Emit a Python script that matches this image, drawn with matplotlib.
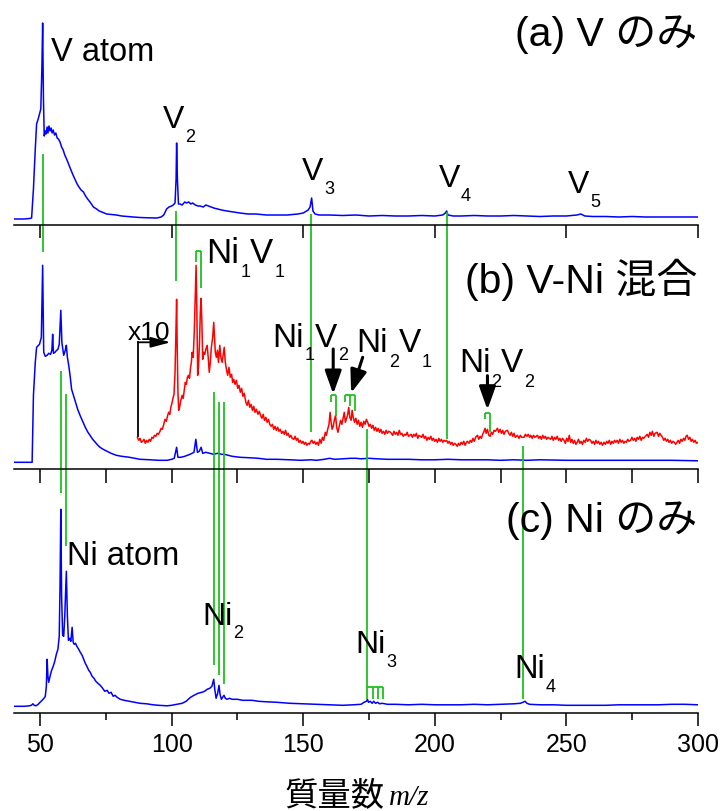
import numpy as np
import matplotlib
matplotlib.use('Agg')
import matplotlib.pyplot as plt

plt.rcParams['font.family'] = ['Liberation Sans', 'Noto Sans CJK JP', 'DejaVu Sans']

BLUE = '#0000ff'
RED = '#ff0000'
GREEN = '#1ec31e'

# ---- (a) V only : mass, intensity ----
va_mass = [39.7, 42, 44, 46, 46.8, 47.5, 48.2, 48.7, 49.3, 49.8, 50.3, 50.7, 51.0, 51.3, 51.6,
           52.0, 52.3, 52.7, 53.0, 53.4, 53.8, 54.2, 54.6, 55.0, 55.5, 56.0, 56.5, 57.0, 57.6,
           58.2, 58.8, 59.4, 60.1, 60.7, 61.3, 61.9, 62.7, 63.4, 64.1, 64.8, 65.6, 66.5, 67.3,
           68.1, 69.0, 70.3, 71.5, 72.5, 73.5, 75.3, 77, 79, 81, 83, 85.4, 88, 91, 94.4, 96, 97,
           98.1, 99, 100, 100.6, 101.3, 101.7, 101.9, 102.2, 102.6, 103.2, 104, 105, 105.7, 106.5,
           107.3, 108, 109, 110, 110.8, 112, 113, 114, 115, 116, 117.5, 119, 121, 123.4, 126, 129,
           132, 136, 140, 144, 148, 150, 151.9, 152.6, 153.2, 153.7, 154.5, 156, 160, 165, 170,
           175, 180, 185, 190, 195, 200, 203, 204, 204.5, 205, 207, 210, 215, 220, 225, 230, 235,
           240, 245, 250, 254, 255.5, 257, 260, 265, 270, 275, 280, 285, 290, 295, 300]
va_int = [0, 0, 0, 0.5, 1, 30, 70, 95, 100, 105, 110, 150, 196, 120, 83,
          88, 85, 92, 86, 93, 88, 91, 86, 89, 84, 86, 81, 80, 77,
          72, 69, 64, 60, 56, 52, 48, 43, 39, 35, 32, 29, 27, 23,
          20, 17, 12, 10, 8, 7, 5, 4.5, 4, 3, 2.5, 2, 1.5, 1.2, 1, 2, 4,
          10, 12, 13, 14, 16, 40, 76, 40, 15, 15, 14, 17, 16, 17,
          15, 16, 14, 13, 13, 12, 14, 13, 12, 11, 10, 9, 8, 7, 6, 5,
          5, 4, 4, 4, 5, 6, 9, 12, 21, 8, 5, 4, 4, 3.5, 4,
          3, 3.5, 3, 3, 3.5, 3, 4, 6, 8, 4, 3, 3, 3.5, 3, 3, 3.5, 3,
          2.5, 3, 3, 4, 5, 3, 2.5, 2.5, 2, 2.5, 2, 2, 2, 2, 2]

# ---- (b) V-Ni mixed, blue trace ----
vb_mass = [39.7, 44, 47, 47.5, 48.2, 48.7, 49.8, 50.5, 51.0, 51.4, 52, 52.7, 53.3, 54, 54.5,
           54.8, 55.1, 55.7, 56.3, 56.8, 57.3, 57.9, 58.3, 59, 59.6, 60.0, 60.4, 60.9, 61.5, 62,
           62.7, 63.5, 64.3, 65.2, 66.2, 67.2, 68.2, 69, 70, 71, 72, 72.8, 74, 75.5, 77, 79, 81,
           84, 88, 92, 95, 98.3, 100, 101, 101.9, 102.4, 103.5, 105, 107, 108.5, 109.2, 109.8,
           110.5, 111.2, 111.8, 113, 114.5, 116, 117.5, 119, 120, 121.5, 123, 126, 130, 133, 136,
           140, 145, 149, 153, 155, 158, 160, 162, 165, 168, 170, 172, 175, 178, 182, 186, 190,
           195, 200, 205, 210, 215, 220, 225, 230, 235, 240, 250, 260, 270, 280, 290, 300]
vb_int = [0, 0, 0, 67, 100, 115, 118, 125, 197, 110, 106, 107, 109, 108, 112,
          128, 109, 110, 112, 113, 118, 152, 120, 107, 112, 117, 105, 97, 85, 73,
          67, 60, 53, 47, 41, 35, 30, 27, 23, 20, 17, 15, 13, 11, 9, 7, 6,
          5, 3, 2.5, 2, 2, 3, 4, 15, 5, 5, 6, 8, 10, 23, 10,
          11, 15, 9, 10, 9, 8, 9, 8, 8, 7, 6, 5, 4.5, 4, 3,
          3, 2.5, 2, 2.5, 2, 3, 4, 3, 3.5, 4, 4, 3.5, 4, 3.5, 3, 3, 3,
          2.5, 2.5, 3, 2.5, 2.5, 2.5, 2, 2.5, 2, 2.5, 2, 2, 2, 2, 2, 1.5]

# ---- (b) V-Ni mixed, x10 trace ----
rb_mass = [87.0, 87.5, 88, 88.5, 89, 89.5, 90, 90.5, 91, 91.5, 92, 92.5, 93, 93.5, 94, 94.5, 95,
           95.6, 96, 96.5, 97, 97.5, 98, 98.5, 98.9, 99.3, 99.7, 100.2, 100.6, 100.9, 101.3,
           101.7, 101.9, 102.1, 102.4, 102.7, 103.1, 103.5, 104, 104.4, 104.8, 105.2, 105.6, 106,
           106.4, 106.8, 107.2, 107.5, 107.8, 108.2, 108.6, 109.0, 109.3, 109.6, 109.9, 110.2,
           110.6, 110.9, 111.2, 111.5, 111.8, 112.2, 112.6, 113, 113.5, 113.9, 114.3, 114.7,
           115.1, 115.6, 116.0, 116.3, 116.6, 117, 117.4, 117.8, 118.3, 118.7, 119.2, 119.6,
           120.0, 120.4, 120.9, 121.3, 121.8, 122.3, 122.8, 123.2, 123.6, 124.1, 124.6, 125.1,
           125.6, 126.1, 126.6, 127.1, 127.6, 128.2, 128.7, 129.2, 129.7, 130.2, 130.7, 131.2,
           131.7, 132.2, 132.8, 133.3, 133.8, 134.3, 134.8, 135.3, 135.8, 136.3, 136.8, 137.3,
           137.8, 138.3, 138.8, 139.3, 139.8, 140.3, 140.8, 141.3, 141.8, 142.3, 142.8, 143.3,
           143.8, 144.3, 144.8, 145.3, 145.8, 146.4, 146.9, 147.4, 147.9, 148.4, 148.9, 149.4,
           149.9, 150.4, 150.9, 151.4, 151.9, 152.4, 152.9, 153.3, 153.8, 154.3, 154.8, 155.3,
           155.8, 156.3, 156.8, 157.3, 157.8, 158.4, 158.8, 159.3, 159.8, 160.2, 160.6, 161.0,
           161.4, 161.8, 162.3, 162.7, 163.2, 163.7, 164.2, 164.7, 165.2, 165.6, 166.0, 166.5,
           166.9, 167.3, 167.7, 168.2, 168.6, 169.0, 169.5, 170, 170.5, 171, 171.5, 172, 172.5,
           173, 173.5, 174, 174.5, 175, 175.5, 176, 176.5, 177, 177.5, 178, 178.5, 179, 179.5,
           180, 180.5, 181, 181.5, 182, 182.5, 183.2, 184, 184.5, 185, 185.5, 186, 186.5, 187,
           187.5, 188, 188.5, 189, 189.5, 190, 191, 191.5, 192, 192.5, 193, 193.5, 194, 195,
           195.5, 196, 196.5, 197, 197.5, 198, 198.5, 199, 199.5, 200, 200.5, 201, 201.5, 202,
           202.5, 203, 203.5, 204, 204.5, 205, 205.5, 206, 206.5, 207, 207.5, 208, 208.5, 209,
           209.5, 210, 210.5, 211, 211.5, 212, 212.4, 213, 213.5, 214, 214.5, 215, 215.5, 216.2,
           216.7, 217.2, 217.7, 218.2, 218.7, 219.1, 219.5, 220, 220.5, 221, 221.5, 222, 222.5,
           223, 223.8, 224.3, 224.8, 225.3, 225.8, 226.3, 226.8, 227.6, 228.1, 228.6, 229.1,
           229.6, 230.1, 230.6, 231.4, 232, 232.5, 233, 233.9, 234.4, 235, 235.5, 236, 236.5,
           237, 237.5, 238, 239, 239.5, 240, 240.5, 241, 241.5, 242, 242.5, 243, 244, 244.5, 245,
           245.5, 246, 246.5, 247, 247.5, 248, 248.5, 249.1, 249.6, 250.1, 250.6, 251.1, 251.6,
           252.1, 252.6, 253.1, 253.6, 254.1, 254.6, 255.1, 255.6, 256.1, 256.6, 257.1, 257.6,
           258.1, 258.6, 259.2, 259.7, 260.2, 260.7, 261.2, 261.7, 262.2, 262.7, 263.2, 263.7,
           264.3, 264.8, 265.3, 265.8, 266.3, 266.8, 267.3, 267.8, 268.3, 268.8, 269.3, 269.8,
           270.3, 270.8, 271.3, 271.8, 272.3, 272.8, 273.3, 273.8, 274.4, 274.9, 275.4, 275.9,
           276.4, 276.9, 277.4, 277.9, 278.4, 278.9, 279.4, 280, 280.7, 281.2, 281.7, 282.2,
           282.7, 283.2, 283.7, 284.5, 285, 285.5, 286, 286.5, 287, 287.5, 288, 288.5, 289,
           289.5, 290, 290.5, 291, 291.5, 292, 292.5, 293, 293.5, 294, 294.5, 295, 295.4, 295.9,
           296.4, 296.9, 297.4, 297.9, 298.4, 298.9, 299.4, 300]
rb_int = [25, 22, 24, 20, 21, 23, 19, 22, 20, 23, 21, 25, 24, 27, 26, 29, 28,
          31, 34, 33, 38, 43, 41, 47, 50, 48, 55, 60, 65, 68, 90,
          140, 163, 120, 70, 52, 56, 62, 67, 64, 72, 80, 78, 85,
          87, 84, 95, 100, 110, 105, 130, 170, 197, 150, 87, 95,
          120, 150, 164, 140, 103, 110, 108, 113, 117, 105, 90, 100,
          115, 125, 140, 125, 110, 105, 112, 100, 117, 105, 100, 108,
          115, 100, 92, 87, 95, 85, 88, 80, 83, 78, 82, 74,
          77, 70, 74, 66, 69, 60, 57, 62, 55, 58, 52, 56,
          50, 53, 48, 51, 47, 44, 48, 42, 45, 40, 43, 38,
          36, 38, 33, 36, 32, 35, 31, 33, 29, 31, 28, 32,
          27, 29, 25, 27, 24, 23, 26, 22, 24, 20, 22, 19,
          21, 18, 20, 17, 19, 18, 21, 22, 19, 21, 18, 20,
          17, 23, 19, 25, 22, 30, 27, 33, 38, 50, 40, 33,
          36, 42, 47, 35, 30, 36, 42, 38, 45, 50, 40, 44,
          48, 55, 45, 42, 52, 45, 40, 44, 38, 42, 36, 40, 35,
          41, 38, 43, 40, 36, 38, 34, 37, 32, 35, 31, 34, 30, 33,
          29, 31, 28, 32, 29, 31, 30, 27, 31, 28, 30, 27, 32, 28,
          29, 26, 28, 27, 30, 26, 28, 25, 28, 26, 29, 24, 27, 25,
          28, 24, 26, 22, 25, 23, 26, 22, 24, 21, 23, 20, 24, 21,
          23, 20, 22, 21, 22, 19, 21, 18, 20, 17, 19, 18, 16, 19,
          17, 20, 18, 21, 17, 20, 21, 19, 22, 20, 24, 21, 25, 27,
          23, 26, 24, 28, 31, 34, 29, 33, 27, 26, 30, 28, 32,
          31, 34, 30, 33, 29, 32, 28, 31, 32, 29, 27, 30,
          26, 29, 25, 27, 24, 27, 25, 25, 28, 26, 28, 25, 27,
          24, 27, 25, 27, 24, 26, 23, 27, 24, 26, 23, 25, 23, 26, 22,
          25, 23, 26, 22, 24, 21, 24, 22, 19, 24, 21, 27, 20,
          23, 19, 22, 18, 20, 23, 19, 21, 18, 22, 20, 24,
          21, 23, 22, 19, 21, 18, 22, 19, 21, 18, 20, 17,
          20, 18, 21, 19, 22, 18, 21, 19, 22, 20, 22, 19,
          23, 20, 22, 19, 21, 20, 23, 21, 22, 25, 22, 24,
          21, 25, 23, 26, 22, 25, 24, 26, 28, 25, 30, 27,
          31, 26, 29, 30, 26, 29, 27, 25, 22, 24, 21, 23, 20,
          22, 19, 21, 20, 18, 20, 22, 19, 23, 21, 24, 22, 26, 27,
          23, 25, 21, 23, 20, 22, 19, 20]

# ---- (c) Ni only ----
nc_mass = [39.7, 44, 46, 46.7, 47.3, 47.8, 48.5, 49.3, 50, 50.8, 51.5, 52, 52.4, 52.7, 53, 53.3,
           53.8, 54.4, 55, 55.6, 56.2, 56.8, 57.3, 57.6, 57.9, 58.2, 58.6, 59.0, 59.4, 60.0, 60.4,
           60.8, 61.3, 61.7, 62.2, 62.6, 63.0, 63.5, 64, 64.7, 65.3, 66, 66.6, 67.2, 67.8, 68.5,
           69.1, 69.8, 70.5, 71.2, 72, 72.9, 73.8, 74.6, 75.5, 76.2, 77, 77.8, 78.5, 79.3, 80.5,
           82, 84, 86, 88, 90.5, 93, 95, 98.3, 100, 102, 104, 105.5, 107.2, 108.5, 110, 111.5,
           112.5, 113.5, 114.5, 115.3, 115.7, 116.0, 116.4, 116.9, 117.5, 118.0, 118.4, 118.9,
           119.4, 119.9, 120.4, 121, 122, 123, 125, 127, 130.6, 133, 136, 140, 145, 150, 155, 160,
           165, 169, 172, 173.1, 174.0, 174.4, 174.8, 175.5, 176.2, 176.8, 177.5, 178.3, 179,
           180, 182, 185, 190, 195, 200, 205, 210, 215, 220, 225, 230, 232.5, 233.5, 234.3, 235,
           236, 240, 245, 250, 255, 260, 265, 270, 275, 280, 285, 290, 295, 300]
nc_int = [0, 0, 0.5, 1, 2.5, 1, 0.5, 2, 4, 6, 8, 10, 20, 47, 30, 24,
          30, 36, 40, 45, 52, 57, 70, 120, 197, 110, 71, 70, 90, 135, 90,
          66, 68, 65, 79, 64, 62, 63, 60, 57, 54, 51, 47, 43, 40, 36,
          34, 30, 28, 25, 23, 21, 18, 15, 16, 13, 14, 10, 11, 9, 7,
          6, 5, 4, 3, 2.5, 1.5, 1, 0.5, 1, 2, 3, 5, 9, 11, 13, 14,
          15, 17, 18, 20, 24, 27, 17, 8, 13, 21, 12, 7,
          9, 11, 8, 7, 8, 7, 7, 6, 6, 5, 4.5, 4, 3, 2.5, 2, 1.5,
          1, 1.5, 2, 4, 5, 7, 4, 5, 3, 5, 3, 4, 2.5,
          3, 2, 2, 1.5, 2, 1.5, 1.5, 1.5, 2, 1.5, 2, 2.5, 3, 4, 5, 3,
          2, 1.5, 1.5, 1, 1, 1, 1, 1.5, 1.5, 1.5, 1.5, 2, 2, 1.5]

# isotope marker lines: mass, top, bottom (own panel units, may reach into next panel)
v_lines = [(51.0, 65, -33), (101.7, 8, -61.7), (152.8, 5, -213), (204.5, 7, -220)]
ni_lines = [(57.9, 91.3, -30.7), (60.0, 68.3, -83.7), (116.0, 70, -202.7),
            (118.0, 60.6, -212.7), (120.0, 60, -221.7), (174.4, 33.3, -224.7),
            (233.6, 16.3, -236.7)]

# brackets: top, [(mass, leg bottom), ...]
b_brackets = [(211.3, [(109.3, 200), (111.2, 174)]),
              (67.3, [(160.4, 60), (162.5, 46.6)]),
              (67.3, [(165.9, 60), (167.8, 56.6), (169.7, 51.6)]),
              (49, [(219.0, 43.3), (221.0, 30)])]
c_brackets = [(19, [(174.4, 7), (176.4, 7), (178.4, 7), (180.4, 7)])]


def chem(ax, x, y, parts, size, drop, subsize=13):
    # parts alternate: main, subscript, main, subscript ...
    prev = ax.text(x, y, parts[0], fontsize=size, ha='left', va='baseline')
    for i, s in enumerate(parts[1:], 1):
        sub = (i % 2 == 1)
        prev = ax.annotate(s, xy=(1, y), xycoords=(prev, 'data'),
                           xytext=(0.5 if sub else 0, -drop * 0.72 if sub else 0),
                           textcoords='offset points',
                           fontsize=subsize if sub else size,
                           ha='left', va='baseline')
    return prev


def brackets(ax, specs):
    for top, legs in specs:
        xs = [m for m, _ in legs]
        ax.hlines(top, min(xs), max(xs), color=GREEN, lw=1.3, clip_on=False)
        for m, bot in legs:
            ax.vlines(m, bot, top, color=GREEN, lw=1.3, clip_on=False)


fig = plt.figure(figsize=(7.28, 8.12), dpi=100)
L = 13.7 / 728
W = (698 - 13.7) / 728
axa = fig.add_axes([L, 1 - 226 / 812, W, 226 / 812])
axb = fig.add_axes([L, 1 - 470 / 812, W, 244 / 812])
axc = fig.add_axes([L, 1 - 714 / 812, W, 244 / 812])

for ax in (axa, axb, axc):
    ax.set_facecolor('none')
    ax.set_xlim(40, 300)
    ax.set_yticks([])
    for s in ('left', 'right', 'top'):
        ax.spines[s].set_visible(False)
    ax.spines['bottom'].set_linewidth(1.1)

axa.set_ylim(-6, 220)
axb.set_ylim(-6.7, 237.3)
axc.set_ylim(-6.7, 237.3)

axa.set_xticks(range(50, 301, 50))
axa.tick_params(axis='x', direction='out', length=9.5, width=1.1, labelbottom=False)
axb.set_xticks(range(50, 301, 25))
axb.tick_params(axis='x', direction='out', length=10, width=1.1, labelbottom=False)
axc.set_xticks(range(50, 301, 50))
axc.set_xticks(range(75, 300, 50), minor=True)
axc.tick_params(axis='x', which='major', direction='out', length=9.5, width=1.1,
                labelsize=18, pad=4)
axc.tick_params(axis='x', which='minor', direction='out', length=5, width=1.1)

# spectra
axa.plot(va_mass, va_int, color=BLUE, lw=1.1)
axb.plot(vb_mass, vb_int, color=BLUE, lw=1.1)
axb.plot(rb_mass, rb_int, color=RED, lw=1.1)
axc.plot(nc_mass, nc_int, color=BLUE, lw=1.1)

# green marker lines
for m, top, bot in v_lines:
    axa.vlines(m, bot, top, color=GREEN, lw=1.3, clip_on=False)
for m, top, bot in ni_lines:
    axb.vlines(m, bot, top, color=GREEN, lw=1.3, clip_on=False)
brackets(axb, b_brackets)
brackets(axc, c_brackets)

# labels (a)
chem(axa, 54.0, 159.3, ['V atom'], 23.5, 0)
chem(axa, 96.7, 92, ['V', '2'], 23, 14)
chem(axa, 149.5, 40, ['V', '3'], 23, 14)
chem(axa, 201.6, 33, ['V', '4'], 23, 14)
chem(axa, 250.6, 27, ['V', '5'], 23, 14)
axa.text(299.6, 185, '(a) V のみ', fontsize=29.5, ha='right', va='center')

# labels (b)
chem(axb, 113.3, 200.3, ['Ni', '1', 'V', '1'], 25, 14)
chem(axb, 138.4, 116.3, ['Ni', '1', 'V', '2'], 24, 13)
chem(axb, 170.3, 111.6, ['Ni', '2', 'V', '1'], 24, 15)
chem(axb, 209.2, 91.6, ['Ni', '2', 'V', '2'], 24, 15)
axb.text(83.4, 123.3, 'x10', fontsize=19, ha='left', va='baseline')
axb.text(299.6, 183.3, '(b) V-Ni 混合', fontsize=29.5, ha='right', va='center')

big = dict(arrowstyle='-|>,head_length=0.7,head_width=0.25', color='k', lw=2.2,
           mutation_scale=20, shrinkA=0, shrinkB=0)
axb.annotate('', xy=(161.4, 68.3), xytext=(161.4, 113.3), arrowprops=big)
axb.annotate('', xy=(168.2, 69.3), xytext=(172.6, 105), arrowprops=big)
axb.annotate('', xy=(220.0, 52.6), xytext=(220.0, 86.6), arrowprops=big)

# x10 indicator
axb.plot([87.3, 87.3], [26.6, 120], color='k', lw=1.3)
axb.annotate('', xy=(99.6, 120), xytext=(87.3, 120),
             arrowprops=dict(arrowstyle='-|>,head_length=0.6,head_width=0.16', color='k',
                             lw=1.3, mutation_scale=20, shrinkA=0, shrinkB=0))

# labels (c)
chem(axc, 60.3, 142.3, ['Ni atom'], 23.5, 0)
chem(axc, 111.5, 82.3, ['Ni', '2'], 23, 13)
chem(axc, 169.7, 54.3, ['Ni', '3'], 23, 14)
chem(axc, 230.1, 29.3, ['Ni', '4'], 23.5, 14)
axc.text(299.6, 186.3, '(c) Ni のみ', fontsize=29.5, ha='right', va='center')

# x axis title
t = fig.text(285 / 728, 0.009, '質量数', fontsize=24, family=['Noto Sans CJK JP'],
             ha='left', va='baseline')
axc.annotate('m/z', xy=(1, 0.009), xycoords=(t, 'figure fraction'), xytext=(3, 0),
             textcoords='offset points', fontsize=21, family='Liberation Serif',
             style='italic', ha='left', va='baseline')

fig.savefig('out.png', dpi=100)
